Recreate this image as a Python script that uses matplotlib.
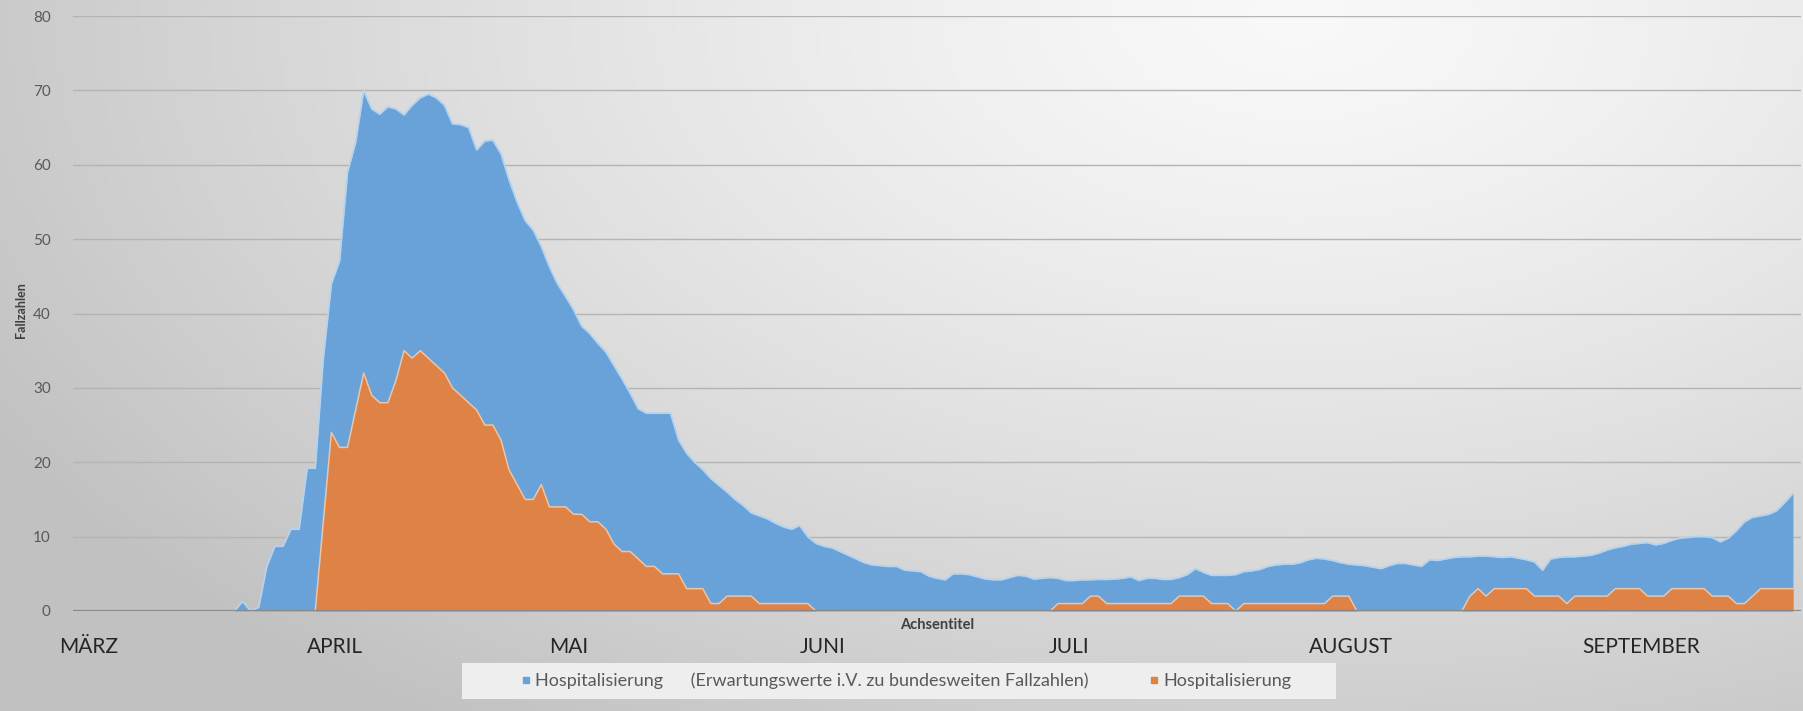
import numpy as np
import matplotlib
matplotlib.use("Agg")
import matplotlib.pyplot as plt
from matplotlib.lines import Line2D
from matplotlib.patches import Rectangle

plt.rcParams['font.family'] = ['Lato', 'DejaVu Sans']

# daily values, 1. Maerz .. 30. September (day index 0..213)
blue_vals = (
    [0] * 21 +
    [1.3, 0, 0.5, 6, 8.7, 8.7, 11, 11, 19.2, 19.2,                    # d21-30
     34, 44, 47, 59, 63, 70, 67.5, 66.8, 67.8, 67.5,                  # d31-40
     66.7, 68, 69, 69.5, 69, 68, 65.5, 65.4, 65, 62,                  # d41-50
     63.2, 63.3, 61.5, 58, 55, 52.5, 51.2, 49, 46.3, 44,              # d51-60
     42.3, 40.5, 38.3, 37.3, 36, 34.8, 33, 31.2, 29.3, 27.2,          # d61-70
     26.6, 26.6, 26.6, 26.6, 23, 21.2, 20, 19, 17.8, 16.9,            # d71-80
     16, 15, 14.2, 13.2, 12.8, 12.4, 11.8, 11.3, 11.0, 11.5,          # d81-90
     10, 9.1, 8.7, 8.5, 8.0, 7.5, 7.0, 6.5, 6.2, 6.1,                 # d91-100
     6.0, 6.0, 5.5, 5.4, 5.3, 4.7, 4.4, 4.2, 5.0, 5.0,                # d101-110
     4.9, 4.6, 4.3, 4.2, 4.2, 4.5, 4.8, 4.7, 4.3, 4.4,                # d111-120
     4.5, 4.4, 4.1, 4.1, 4.2, 4.2, 4.25, 4.25, 4.3, 4.4,              # d121-130
     4.6, 4.1, 4.4, 4.4, 4.25, 4.25, 4.5, 4.9, 5.7, 5.2,              # d131-140
     4.8, 4.8, 4.8, 4.9, 5.3, 5.4, 5.6, 6.0, 6.2, 6.3,                # d141-150
     6.3, 6.5, 6.9, 7.1, 7.0, 6.8, 6.5, 6.3, 6.2, 6.1,                # d151-160
     5.9, 5.7, 6.1, 6.4, 6.4, 6.2, 6.0, 6.9, 6.8, 7.0,                # d161-170
     7.2, 7.3, 7.3, 7.4, 7.4, 7.3, 7.2, 7.3, 7.1, 6.9,                # d171-180
     6.6, 5.5, 7.0, 7.2, 7.3, 7.3, 7.4, 7.5, 7.8, 8.2,                # d181-190
     8.5, 8.7, 9.0, 9.1, 9.2, 8.9, 9.1, 9.5, 9.8, 9.9,                # d191-200
     10.0, 10.0, 9.9, 9.3, 9.8, 10.8, 12.0, 12.6, 12.8, 13.0,         # d201-210
     13.5, 14.6, 15.8]                                                # d211-213
)

orange_vals = (
    [0] * 31 +
    [12, 24, 22, 22, 27, 32, 29, 28, 28, 31,                          # d31-40
     35, 34, 35, 34, 33, 32, 30, 29, 28, 27,                          # d41-50
     25, 25, 23, 19, 17, 15, 15, 17, 14, 14,                          # d51-60
     14, 13, 13, 12, 12, 11, 9, 8, 8, 7,                              # d61-70
     6, 6, 5, 5, 5, 3, 3, 3, 1, 1,                                    # d71-80
     2, 2, 2, 2, 1, 1, 1, 1, 1, 1, 1] +                               # d81-91
    [0] * 30 +                                                        # d92-121
    [1, 1, 1, 1, 2, 2, 1, 1, 1, 1, 1, 1, 1, 1, 1,                     # d122-136
     2, 2, 2, 2, 1, 1, 1, 0,                                          # d137-144
     1, 1, 1, 1, 1, 1, 1, 1, 1, 1, 1, 2, 2, 2] +                      # d145-158
    [0] * 14 +                                                        # d159-172
    [2, 3, 2, 3, 3, 3, 3, 3, 2, 2, 2, 2, 1, 2, 2, 2, 2, 2,            # d173-190
     3, 3, 3, 3, 2, 2, 2, 3, 3, 3, 3, 3, 2, 2, 2, 1, 1, 2,            # d191-208
     3, 3, 3, 3, 3]                                                   # d209-213
)

days = np.arange(len(blue_vals))

month_names = ['MÄRZ', 'APRIL', 'MAI', 'JUNI', 'JULI', 'AUGUST', 'SEPTEMBER']
month_pos = [1.9, 32.4, 61.4, 92.8, 123.3, 158.3, 194.2]

label_blue = 'Hospitalisierung      (Erwartungswerte i.V. zu bundesweiten Fallzahlen)'
label_orange = 'Hospitalisierung'

c_blue = '#69a2d8'
c_orange = '#de8246'

W, H = 1803, 711
fig = plt.figure(figsize=(W / 100, H / 100), dpi=100)

# radial grey background, light near the top middle/right
bg = fig.add_axes([0, 0, 1, 1])
bg.axis('off')
gx, gy = np.meshgrid(np.linspace(0, 1, 400), np.linspace(0, 1, 200))
r = np.sqrt(((gx - 0.72) / 0.75) ** 2 + ((gy - 0.02) / 1.1) ** 2)
shade = np.clip(0.975 - 0.19 * r ** 1.3, 0.76, 0.975)
bg.imshow(np.dstack([shade] * 3), extent=[0, 1, 0, 1], aspect='auto', origin='upper')
bg.set_xlim(0, 1)
bg.set_ylim(0, 1)

ax = fig.add_axes([73 / W, 100 / H, (1801 - 73) / W, 595 / H])
ax.patch.set_alpha(0)

ax.fill_between(days, blue_vals, color=c_blue, lw=0, zorder=2)
ax.plot(days, blue_vals, color='#b3d3f0', lw=1.3, zorder=3)
ax.fill_between(days, orange_vals, color=c_orange, lw=0, zorder=4)
ax.plot(days, orange_vals, color='#f0c4a2', lw=1.1, zorder=5)

ax.set_xlim(0, 214)
ax.set_ylim(0, 80)
ax.set_yticks(range(0, 81, 10))
ax.yaxis.grid(True, color='#b4b4b4', lw=1)
ax.set_axisbelow(True)
ax.axhline(0, color='#8a8a8a', lw=1.6, zorder=6)
for s in ax.spines.values():
    s.set_visible(False)

ax.tick_params(axis='y', length=0, pad=16, labelsize=11, labelcolor='#595959')
ax.set_xticks(month_pos)
ax.set_xticklabels(month_names, fontsize=15, color='#262626')
ax.tick_params(axis='x', length=0, pad=19)

ax.text(0.5, -0.023, 'Achsentitel', transform=ax.transAxes, ha='center', va='center',
        fontsize=10.5, fontweight='bold', color='#404040')
fig.text(21 / W, 0.564, 'Fallzahlen', rotation=90, ha='center', va='center',
         fontsize=9, fontweight='bold', color='#404040')

# legend with its own light box
fig.patches.append(Rectangle((462 / W, 12 / H), 874 / W, 36 / H, transform=fig.transFigure,
                             facecolor='#eeeeee', edgecolor='none', zorder=1))
handles = [Line2D([], [], marker='s', ls='', color=c_blue, markersize=5),
           Line2D([], [], marker='s', ls='', color=c_orange, markersize=5)]
fig.legend(handles, [label_blue, label_orange], loc='center', bbox_to_anchor=(905 / W, 30 / H),
           ncol=2, frameon=False, fontsize=13, labelcolor='#595959', handletextpad=0.1,
           columnspacing=3.2, handlelength=0.8)

fig.savefig('out.png', dpi=100)
